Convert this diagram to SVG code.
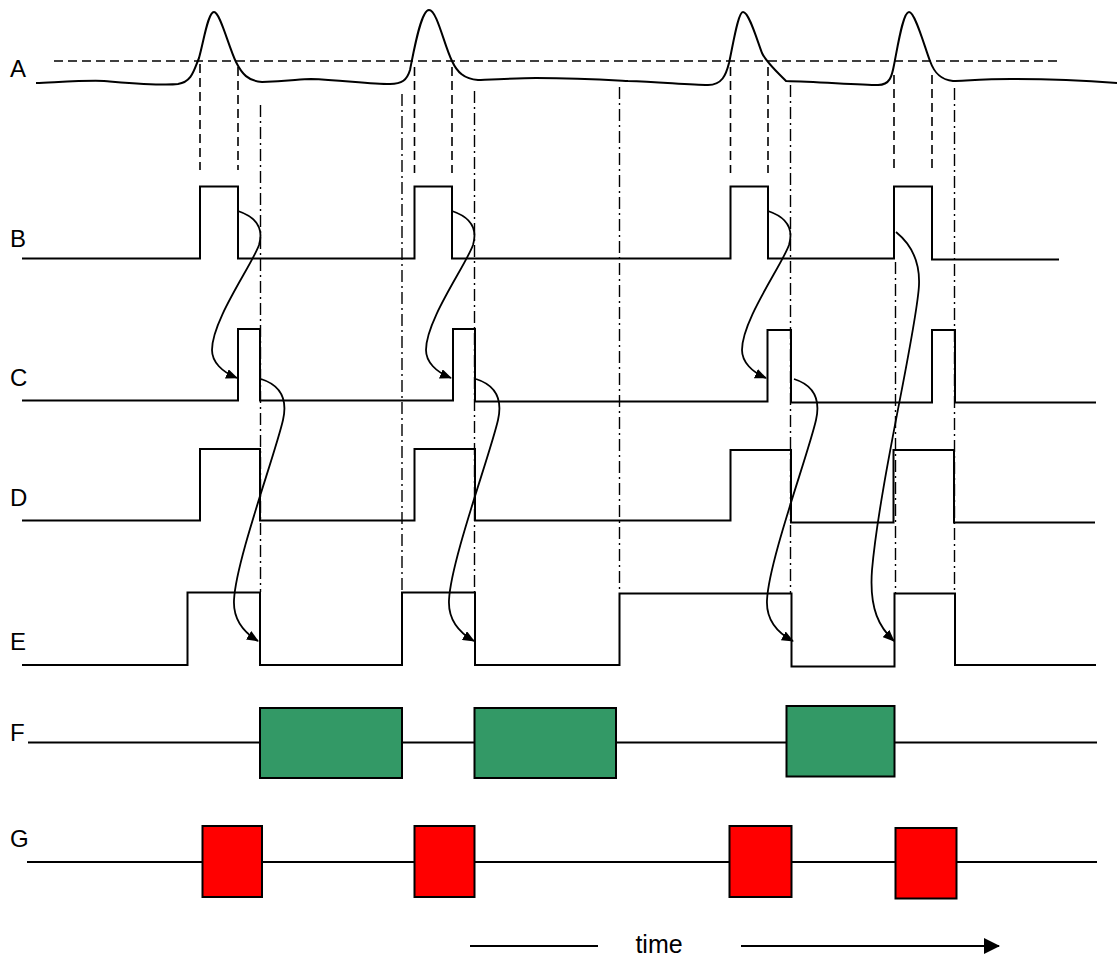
<svg xmlns="http://www.w3.org/2000/svg" width="1117" height="959" viewBox="0 0 1117 959">
<style>
.sig{fill:none;stroke:#000;stroke-width:2}
.dash{fill:none;stroke:#000;stroke-width:1.6;stroke-dasharray:9 5}
.dd{fill:none;stroke:#000;stroke-width:1.4;stroke-dasharray:12 4 2 4}
.lbl{font-family:"Liberation Sans",Arial,sans-serif;font-size:24px;fill:#000}
.cur{fill:none;stroke:#000;stroke-width:1.8}
.gbox{fill:#339966;stroke:#000;stroke-width:2}
.rbox{fill:#ff0000;stroke:#000;stroke-width:2}
</style>
<defs>
<marker id="ah" markerUnits="userSpaceOnUse" markerWidth="12" markerHeight="10" refX="11" refY="5" orient="auto">
<path d="M0,0 L12,5 L0,10 Z" fill="#000"/>
</marker>
<marker id="ta" markerUnits="userSpaceOnUse" markerWidth="16" markerHeight="16" refX="15" refY="8" orient="auto">
<path d="M0,0 L16,8 L0,16 Z" fill="#000"/>
</marker>
</defs>
<rect width="1117" height="959" fill="#fff"/>

<g id="guides">
<line class="dash" x1="54" y1="61" x2="1057" y2="61"/>
<line class="dash" x1="200" y1="64" x2="200" y2="170"/>
<line class="dash" x1="238" y1="67" x2="238" y2="170"/>
<line class="dash" x1="414.5" y1="67" x2="414.5" y2="173"/>
<line class="dash" x1="452" y1="67" x2="452" y2="173"/>
<line class="dash" x1="730.5" y1="67" x2="730.5" y2="173"/>
<line class="dash" x1="768" y1="67" x2="768" y2="173"/>
<line class="dash" x1="894" y1="75" x2="894" y2="168"/>
<line class="dash" x1="932" y1="75" x2="932" y2="168"/>
<line class="dd" x1="260.5" y1="105" x2="260.5" y2="592"/>
<line class="dd" x1="402" y1="94" x2="402" y2="592"/>
<line class="dd" x1="474.5" y1="91" x2="474.5" y2="592"/>
<line class="dd" x1="619.5" y1="87" x2="619.5" y2="593"/>
<line class="dd" x1="790.5" y1="85" x2="790.5" y2="593"/>
<line class="dd" x1="895.5" y1="262" x2="895.5" y2="593"/>
<line class="dd" x1="954.5" y1="88" x2="954.5" y2="593"/>
</g>

<g id="A">
<text class="lbl" x="10" y="77">A</text>
<path class="sig" d="M36,83 C60,82 90,80 104,81 S160,86 178,84 C192,82 194,70 199,58 C204,40 208,12 214,12 C220,12 228,45 236,62 C242,74 248,81 262,82 C290,81 300,79 311,79 C340,80 370,84 390,84 C402,84 407,80 410,70 C414,50 421,10 429,10 C437,10 444,45 452,61 C457,72 464,79 478,80 C500,79 520,78 536,78 C580,78 610,80 628,81 C660,82 690,85 708,85 C722,85 726,75 729,63 C733,45 738,12 743,12 C749,12 757,40 762,53 C766,62 778,73 786,81 C820,82 860,85 878,85 C890,85 892,76 894,65 C898,45 903,12 909,12 C915,12 924,45 930,61 C934,72 940,80 953,81 C975,80 990,79 1011,79 C1050,79 1090,81 1117,83"/>
</g>

<g id="B">
<text class="lbl" x="10" y="247">B</text>
<path class="sig" d="M22,258.5 H200 V186.5 H238 V258.5 H414.5 V186.5 H452 V258.5 H730.5 V186.5 H768 V258.5 H894 V186.5 H932 V259.5 H1059"/>
</g>

<g id="C">
<text class="lbl" x="10" y="386">C</text>
<path class="sig" d="M22,400.5 H238 V329 H260 V400.5 H453 V329 H475 V401.5 H767.5 V330 H791 V402.5 H932 V330 H955 V402.5 H1096"/>
</g>

<g id="D">
<text class="lbl" x="10" y="506">D</text>
<path class="sig" d="M22,520.5 H200 V449 H260 V520.5 H414.5 V449 H475 V520.5 H730.5 V450 H791 V522.5 H893.5 V450 H954 V522.5 H1095"/>
</g>

<g id="E">
<text class="lbl" x="10" y="650">E</text>
<path class="sig" d="M22,665 H187.5 V592.5 H260 V665 H402 V592.5 H475 V665 H619.5 V593.5 H791.5 V666.5 H894.5 V593.5 H955 V665 H1096"/>
</g>

<g id="F">
<text class="lbl" x="10" y="741">F</text>
<line class="sig" x1="28" y1="742.5" x2="1097" y2="742.5"/>
<rect class="gbox" x="260" y="708" width="142" height="70"/>
<rect class="gbox" x="474.5" y="708" width="141.5" height="70"/>
<rect class="gbox" x="786.5" y="706" width="108" height="70.5"/>
</g>

<g id="G">
<text class="lbl" x="10" y="847">G</text>
<line class="sig" x1="27" y1="862" x2="1097" y2="862"/>
<rect class="rbox" x="202.5" y="826" width="59.5" height="71"/>
<rect class="rbox" x="414.5" y="826" width="60" height="71"/>
<rect class="rbox" x="729.5" y="826" width="62" height="71"/>
<rect class="rbox" x="895.5" y="828" width="61" height="70.5"/>
</g>

<g id="connectors">
<path class="cur" marker-end="url(#ah)" d="M238,211 C256,217 264,228 259,245 C252,265 212,320 212,350 C212,362 222,372 237,378"/>
<path class="cur" marker-end="url(#ah)" d="M452,211 C470,217 478,228 473,245 C466,265 426,320 426,350 C426,362 436,372 451,378"/>
<path class="cur" marker-end="url(#ah)" d="M768,211 C786,217 794,228 789,245 C782,265 742,320 742,350 C742,362 752,372 766,378"/>
<path class="cur" marker-end="url(#ah)" d="M261,379 C280,385 288,398 283,420 C275,455 236,560 234,600 C233,620 245,633 258,641"/>
<path class="cur" marker-end="url(#ah)" d="M476,379 C495,385 503,398 498,420 C490,455 451,560 449,600 C448,620 460,633 474,641"/>
<path class="cur" marker-end="url(#ah)" d="M794,379 C813,385 821,398 816,420 C808,455 769,560 767,600 C766,620 778,633 793,641"/>
<path class="cur" marker-end="url(#ah)" d="M896,232 C912,245 920,262 919,285 C917,330 880,480 872,570 C869,610 880,628 894,641"/>
</g>

<g id="time">
<line class="sig" x1="470" y1="946" x2="598" y2="946"/>
<text class="lbl" x="659" y="953" text-anchor="middle" style="font-size:25px">time</text>
<line class="sig" x1="741" y1="946" x2="999" y2="946" marker-end="url(#ta)"/>
</g>
</svg>
